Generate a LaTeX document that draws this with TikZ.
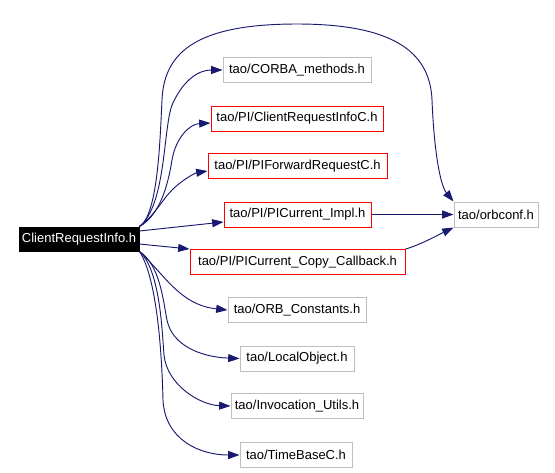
\documentclass[tikz,border=0pt]{standalone}
\usepackage{fontspec}
\setmainfont{Liberation Sans}
\usetikzlibrary{arrows.meta}
\definecolor{midnight}{RGB}{25,25,112}
\definecolor{silver}{RGB}{191,191,191}
\definecolor{alert}{RGB}{255,0,0}

\begin{document}
\begin{tikzpicture}[x=0.75pt,y=-0.75pt,
    hdr/.style={draw=#1,line width=0.75pt,minimum height=18.75pt,inner sep=0pt,
      font=\fontsize{9.75pt}{11.7pt}\selectfont},
    dep/.style={midnight,line width=0.7pt,-{Triangle[length=8.5pt,width=6pt]}}]
    \useasboundingbox (0,0) rectangle (555,472);
    \node[hdr=black,fill=black,text=white,minimum width=90pt,minimum height=18pt] (cri) at (79,239) {ClientRequestInfo.h};
    \node[hdr=silver,minimum width=63pt] (orbconf) at (496,214.5) {tao/orbconf.h};
    \foreach \n/\x/\y/\w/\c/\t in {
      corba/297/70/148/silver/{tao/CORBA\_methods.h},
      cric/297/118.5/172/alert/{tao/PI/ClientRequestInfoC.h},
      pifwd/297.5/166/179/alert/{tao/PI/PIForwardRequestC.h},
      impl/297.5/214.5/147/alert/{tao/PI/PICurrent\_Impl.h},
      copy/297.5/262/215/alert/{tao/PI/PICurrent\_Copy\_Callback.h},
      orb/297/310/138/silver/{tao/ORB\_Constants.h},
      local/297/358.5/114/silver/{tao/LocalObject.h},
      invoc/297/406/132/silver/{tao/Invocation\_Utils.h},
      time/296/455/112/silver/{tao/TimeBaseC.h}}
    {
      \node[hdr=\c,minimum width=\w*0.75pt] (\n) at (\x,\y) {\t};
    }
    \draw[dep] (cri.north east) .. controls (158,215) and (160,140) .. (162,100)
      .. controls (164,50) and (200,24) .. (297,24) .. controls (390,24) and (430,50) .. (432,100)
      .. controls (434,150) and (440,185) .. (orbconf.north west);
    \draw[dep] (cri.north east) .. controls (166,205) and (163,130) .. (172,105)
      .. controls (184,78) and (200,70) .. (corba.west);
    \draw[dep] (cri.north east) .. controls (160,215) and (168,185) .. (172,160)
      .. controls (176,137) and (190,124) .. ([yshift=-3.4pt]cric.west);
    \draw[dep] (cri.north east) .. controls (155,215) and (162,200) .. (172,190)
      .. controls (182,180) and (195,173) .. ([yshift=-3.75pt]pifwd.west);
    \draw[dep] ([yshift=6pt]cri.east) -- ([yshift=-5.6pt]impl.west);
    \draw[dep] ([yshift=-3.75pt]cri.east) -- (copy.north west);
    \draw[dep] (cri.south east) .. controls (165,275) and (180,305) .. (orb.west);
    \draw[dep] (cri.south east) .. controls (160,265) and (163,300) .. (167,320)
      .. controls (172,345) and (200,357) .. (local.west);
    \draw[dep] (cri.south east) .. controls (160,270) and (162,330) .. (164,355)
      .. controls (167,385) and (200,405) .. (invoc.west);
    \draw[dep] (cri.south east) .. controls (158,280) and (162,360) .. (163,400)
      .. controls (165,440) and (200,455) .. (time.west);
    \draw[dep] (impl.east) -- (orbconf.west);
    \draw[dep] (copy.north east) .. controls (420,245) and (438,235) .. (orbconf.south west);
\end{tikzpicture}
\end{document}
